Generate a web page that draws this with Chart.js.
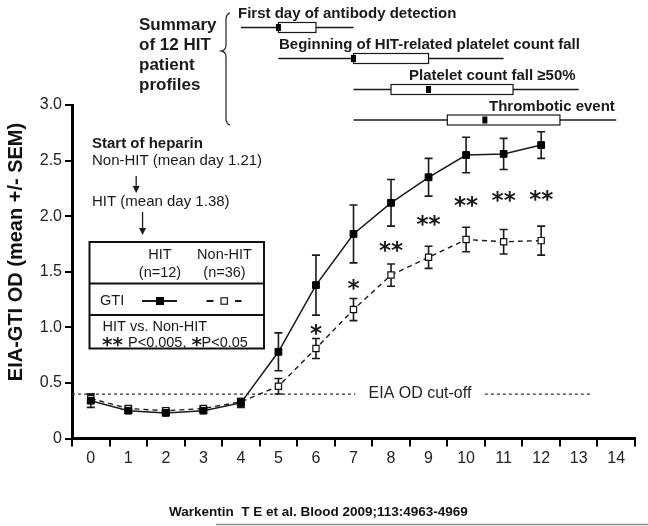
<!DOCTYPE html>
<html><head><meta charset="utf-8">
<script src="https://cdn.jsdelivr.net/npm/chart.js@4.4.1/dist/chart.umd.min.js"></script>
<style>html,body{margin:0;padding:0;background:#fff}canvas{display:block}</style>
</head><body>
<canvas id="c" width="648" height="526"></canvas>
<script>
// ---------- data ----------
const dayLabels = ['0','1','2','3','4','5','6','7','8','9','10','11','12','13','14'];
const hitMean = [0.34, 0.25, 0.23, 0.25, 0.32, 0.78, 1.38, 1.84, 2.12, 2.35, 2.55, 2.56, 2.64];
const hitSEM  = [0.06, 0.02, 0.02, 0.02, 0.04, 0.17, 0.27, 0.26, 0.21, 0.17, 0.16, 0.14, 0.12];
const nonMean = [0.36, 0.27, 0.25, 0.27, 0.33, 0.47, 0.81, 1.16, 1.47, 1.63, 1.79, 1.77, 1.78];
const nonSEM  = [0.04, 0.02, 0.02, 0.02, 0.03, 0.07, 0.09, 0.10, 0.10, 0.10, 0.11, 0.11, 0.13];
const sigDays  = [6, 7, 8, 9, 10, 11, 12];
const sigMarks = ['*', '*', '**', '**', '**', '**', '**'];
const sigY     = [0.97, 1.37, 1.71, 1.95, 2.12, 2.165, 2.17];
const cutoff = 0.4;
const yTicks = [0, 0.5, 1.0, 1.5, 2.0, 2.5, 3.0];
const heparinNonHitDay = 1.21;
const heparinHitDay = 1.38;
const boxLabels = ['First day of antibody detection', 'Beginning of HIT-related platelet count fall', 'Platelet count fall \u226550%', 'Thrombotic event'];
const boxMin    = [4, 5, 7, 7];
const boxQ1     = [5, 7, 8, 9.5];
const boxMedian = [5, 7, 9, 10.5];
const boxQ3     = [6, 9, 11.25, 12.5];
const boxMax    = [7, 11, 13, 14];

const FONT = '"Liberation Sans", Arial, Helvetica, sans-serif';
const STARFONT = '"DejaVu Sans", sans-serif';
const INK = '#1a1a1a';

function dayX(chart, d) {
  const x = chart.scales.x;
  const p0 = x.getPixelForValue(0), p1 = x.getPixelForValue(1);
  return p0 + d * (p1 - p0);
}

const annotations = {
  id: 'annotations',
  beforeDatasetsDraw(chart) {
    const ctx = chart.ctx, y = chart.scales.y;
    ctx.save();
    // cut-off line
    const cy = y.getPixelForValue(cutoff);
    ctx.strokeStyle = '#333'; ctx.lineWidth = 1.3; ctx.setLineDash([3, 3]);
    ctx.beginPath();
    ctx.moveTo(chart.chartArea.left, cy); ctx.lineTo(dayX(chart, 7.05), cy);
    ctx.moveTo(dayX(chart, 10.5), cy); ctx.lineTo(dayX(chart, 13.37), cy);
    ctx.stroke();
    ctx.setLineDash([]);
    ctx.fillStyle = '#222'; ctx.font = '16px ' + FONT; ctx.textAlign = 'center'; ctx.textBaseline = 'middle';
    ctx.fillText('EIA OD cut-off', dayX(chart, 8.77), cy);
    // error bars
    const drawErr = (means, sems) => {
      ctx.strokeStyle = INK; ctx.lineWidth = 1.6;
      means.forEach((m, i) => {
        const px = dayX(chart, i);
        const t = y.getPixelForValue(m + sems[i]), b = y.getPixelForValue(m - sems[i]);
        ctx.beginPath();
        ctx.moveTo(px, t); ctx.lineTo(px, b);
        ctx.moveTo(px - 4, t); ctx.lineTo(px + 4, t);
        ctx.moveTo(px - 4, b); ctx.lineTo(px + 4, b);
        ctx.stroke();
      });
    };
    drawErr(nonMean, nonSEM);
    drawErr(hitMean, hitSEM);
    ctx.restore();
  },
  afterDraw(chart) {
    const ctx = chart.ctx, y = chart.scales.y;
    ctx.save();
    // significance stars
    ctx.fillStyle = INK; ctx.font = 'bold 23px ' + STARFONT; ctx.textAlign = 'center'; ctx.textBaseline = 'alphabetic';
    sigDays.forEach((d, i) => {
      ctx.fillText(sigMarks[i], dayX(chart, d), y.getPixelForValue(sigY[i]) + 10);
    });
    // box plots (summary of HIT patient profiles)
    const rowY = [27.5, 58.5, 89.5, 120];
    const labelX = [238, 279, 409, 489];
    boxLabels.forEach((lab, i) => {
      const ry = rowY[i];
      ctx.strokeStyle = INK; ctx.lineWidth = 1.3;
      ctx.beginPath();
      ctx.moveTo(dayX(chart, boxMin[i]), ry); ctx.lineTo(dayX(chart, boxMax[i]), ry);
      ctx.stroke();
      const bx1 = dayX(chart, boxQ1[i]), bx2 = dayX(chart, boxQ3[i]);
      ctx.fillStyle = '#fff';
      ctx.fillRect(bx1, ry - 5, bx2 - bx1, 10);
      ctx.lineWidth = 1.2;
      ctx.strokeRect(bx1, ry - 5, bx2 - bx1, 10);
      ctx.fillStyle = '#000';
      const mx = dayX(chart, boxMedian[i]);
      ctx.fillRect(mx - 2.5, ry - 3.5, 5, 7);
      ctx.fillStyle = INK; ctx.font = 'bold 15px ' + FONT; ctx.textAlign = 'left'; ctx.textBaseline = 'middle';
      ctx.fillText(lab, labelX[i], ry - 13.5);
    });
    // Summary text and brace
    ctx.font = 'bold 17px ' + FONT; ctx.textAlign = 'left'; ctx.textBaseline = 'middle';
    ['Summary', 'of 12 HIT', 'patient', 'profiles'].forEach((t, i) => ctx.fillText(t, 139, 25 + i * 20));
    ctx.strokeStyle = '#333'; ctx.lineWidth = 1.3;
    ctx.beginPath();
    ctx.moveTo(230, 13); ctx.quadraticCurveTo(226, 14, 226, 20);
    ctx.lineTo(226, 45); ctx.quadraticCurveTo(226, 50, 221.5, 51);
    ctx.quadraticCurveTo(226, 52, 226, 57);
    ctx.lineTo(226, 118); ctx.quadraticCurveTo(226, 124, 230, 125);
    ctx.stroke();
    // Start of heparin
    ctx.fillStyle = INK;
    ctx.font = 'bold 15px ' + FONT; ctx.fillText('Start of heparin', 92, 143.5);
    ctx.font = '15px ' + FONT;
    ctx.fillText('Non-HIT (mean day 1.21)', 92, 161);
    ctx.fillText('HIT (mean day 1.38)', 92, 202);
    const arrow = (x, y0, y1) => {
      ctx.strokeStyle = INK; ctx.lineWidth = 1.3;
      ctx.beginPath(); ctx.moveTo(x, y0); ctx.lineTo(x, y1 - 5); ctx.stroke();
      ctx.beginPath(); ctx.moveTo(x - 3.5, y1 - 7); ctx.lineTo(x + 3.5, y1 - 7); ctx.lineTo(x, y1); ctx.closePath(); ctx.fill();
    };
    arrow(dayX(chart, heparinNonHitDay), 176, 193);
    arrow(dayX(chart, heparinHitDay), 212, 235);
    // legend box
    ctx.strokeStyle = '#111'; ctx.lineWidth = 2;
    ctx.strokeRect(89.5, 242, 174.5, 106.5);
    ctx.beginPath(); ctx.moveTo(89.5, 283.5); ctx.lineTo(264, 283.5); ctx.moveTo(89.5, 315); ctx.lineTo(264, 315); ctx.stroke();
    ctx.fillStyle = INK; ctx.font = '14.5px ' + FONT; ctx.textAlign = 'center'; ctx.textBaseline = 'middle';
    ctx.fillText('HIT', 160, 254.5); ctx.fillText('(n=12)', 160, 273);
    ctx.fillText('Non-HIT', 224.5, 254.5); ctx.fillText('(n=36)', 224.5, 273);
    ctx.textAlign = 'left';
    ctx.fillText('GTI', 100, 301);
    ctx.fillText('HIT vs. Non-HIT', 102.5, 327);
    ctx.fillText('P<0.005,', 128, 343);
    ctx.fillText('P<0.05', 201.5, 343);
    ctx.font = 'bold 20px ' + STARFONT;
    ctx.textBaseline = 'alphabetic';
    ctx.fillText('**', 102, 351);
    ctx.fillText('*', 191.5, 351);
    // legend markers
    ctx.strokeStyle = INK; ctx.lineWidth = 2;
    ctx.beginPath(); ctx.moveTo(142, 301); ctx.lineTo(177, 301); ctx.stroke();
    ctx.fillStyle = '#000'; ctx.fillRect(156, 297, 8, 8);
    ctx.beginPath(); ctx.moveTo(206.5, 301); ctx.lineTo(213.5, 301); ctx.moveTo(235, 301); ctx.lineTo(241.5, 301); ctx.stroke();
    ctx.lineWidth = 1.2; ctx.fillStyle = '#fff';
    ctx.fillRect(221, 297.8, 6.4, 6.4); ctx.strokeRect(221, 297.8, 6.4, 6.4);
    // Y axis title
    ctx.save();
    ctx.translate(16, 252); ctx.rotate(-Math.PI / 2);
    ctx.fillStyle = '#111'; ctx.font = 'bold 20px ' + FONT; ctx.textAlign = 'center'; ctx.textBaseline = 'middle';
    ctx.fillText('EIA-GTI OD (mean +/- SEM)', 0, 0);
    ctx.restore();
    // citation
    ctx.fillStyle = '#111'; ctx.font = 'bold 13.5px ' + FONT; ctx.textAlign = 'left'; ctx.textBaseline = 'middle';
    ctx.fillText('Warkentin  T E et al. Blood 2009;113:4963-4969', 169, 512);
    ctx.strokeStyle = '#8a8a8a'; ctx.lineWidth = 1.5;
    ctx.beginPath(); ctx.moveTo(216, 524.5); ctx.lineTo(648, 524.5); ctx.stroke();
    ctx.restore();
  }
};

new Chart(document.getElementById('c'), {
  type: 'line',
  data: {
    labels: dayLabels,
    datasets: [
      { label: 'HIT', data: hitMean, borderColor: INK, borderWidth: 1.5, backgroundColor: '#000',
        pointStyle: 'rect', pointRadius: 4.8, pointBorderColor: '#000', pointBackgroundColor: '#000', pointBorderWidth: 1, tension: 0 },
      { label: 'Non-HIT', data: nonMean, borderColor: INK, borderWidth: 1.4, borderDash: [5, 4],
        pointStyle: 'rect', pointRadius: 4.4, pointBorderColor: '#111', pointBackgroundColor: '#fff', pointBorderWidth: 1.2, tension: 0 }
    ]
  },
  options: {
    responsive: false, animation: false, devicePixelRatio: 1,
    layout: { padding: { left: 0, top: 105, right: 13, bottom: 37.5 } },
    plugins: { legend: { display: false }, tooltip: { enabled: false } },
    scales: {
      x: {
        type: 'category', offset: true,
        grid: { offset: true, drawOnChartArea: false, drawTicks: true, tickLength: 8, color: '#000', lineWidth: 2 },
        border: { color: '#000', width: 3 },
        ticks: { color: '#222', font: { family: FONT, size: 16 }, padding: 2, maxRotation: 0, autoSkip: false },
        afterFit: s => { s.height = 50; }
      },
      y: {
        min: 0, max: 3,
        afterBuildTicks: s => { s.ticks = yTicks.map(v => ({ value: v })); },
        grid: { drawOnChartArea: false, drawTicks: true, tickLength: 7, color: '#000', lineWidth: 2 },
        border: { color: '#000', width: 3 },
        ticks: { color: '#222', font: { family: FONT, size: 16 }, padding: 3,
          callback: v => v === 0 ? '0' : Number(v).toFixed(1) },
        afterFit: s => { s.width = 72; }
      }
    }
  },
  plugins: [annotations]
});
</script>
</body></html>
